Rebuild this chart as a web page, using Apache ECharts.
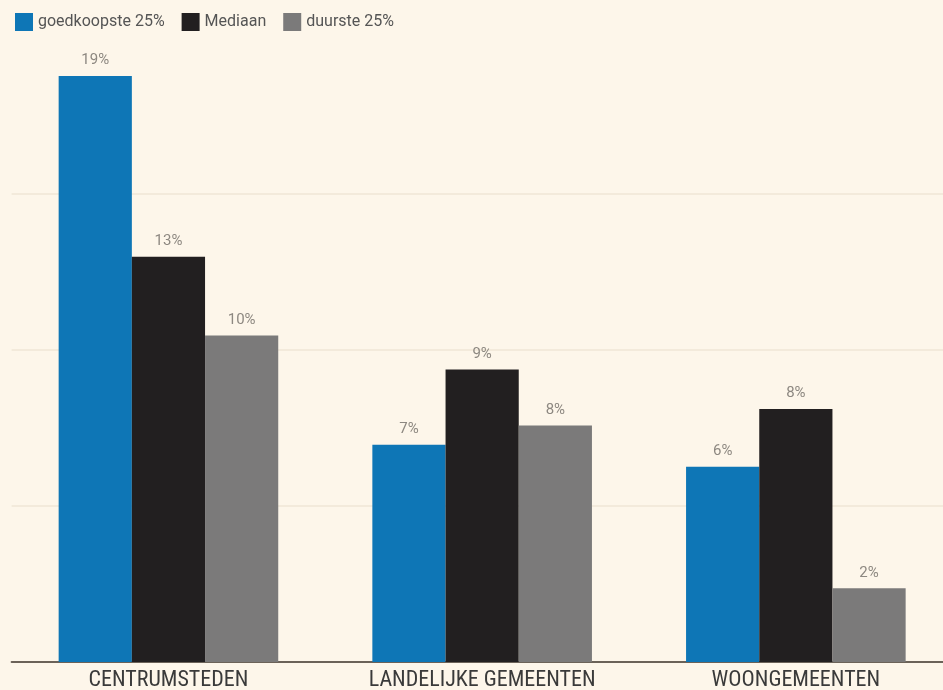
<!DOCTYPE html>
<html><head><meta charset="utf-8">
<script src="https://cdn.jsdelivr.net/npm/echarts@6/dist/echarts.min.js"></script>
<style>html,body{margin:0;padding:0;background:#fdf6ea;}#c{width:943px;height:690px;}</style>
</head><body><div id="c"></div>
<script>
const categories = ['CENTRUMSTEDEN', 'LANDELIJKE GEMEENTEN', 'WOONGEMEENTEN'];
const seriesNames = ['goedkoopste 25%', 'Mediaan', 'duurste 25%'];
const goedkoopste = [18.75, 6.95, 6.25];
const mediaan = [12.97, 9.36, 8.1];
const duurste = [10.45, 7.57, 2.36];
const colors = ['#0e76b6', '#221f20', '#7b7a7a'];

const chart = echarts.init(document.getElementById('c'));
const mk = (name, data, i) => ({
  name, type: 'bar', data, barGap: '0%', barCategoryGap: '30%',
  itemStyle: { color: colors[i] },
  label: { show: true, position: 'top', distance: 8, color: '#8d8881', fontSize: 15,
    fontFamily: 'Roboto, sans-serif', formatter: p => Math.round(p.value) + '%' }
});
chart.setOption({
  backgroundColor: '#fdf6ea',
  animation: false,
  legend: {
    left: 10, top: 8, itemWidth: 18, itemHeight: 18, itemGap: 17,
    icon: 'rect',
    textStyle: { color: '#555', fontSize: 16, fontFamily: 'Roboto, sans-serif' },
    data: seriesNames
  },
  grid: { left: 11.6, top: 37, right: -9.7, bottom: 28, containLabel: false, outerBoundsMode: 'none' },
  xAxis: {
    type: 'category', data: categories,
    axisLine: { lineStyle: { color: '#6b6258', width: 2 } },
    axisTick: { show: false },
    axisLabel: { color: '#3a3a3a', fontSize: 22, margin: 7, fontFamily: '"Liberation Sans Narrow", "Roboto Condensed", sans-serif' }
  },
  yAxis: {
    type: 'value', min: 0, max: 20, interval: 5,
    axisLabel: { show: false }, axisLine: { show: false }, axisTick: { show: false },
    splitLine: { show: true, showMinLine: false, showMaxLine: false, lineStyle: { color: '#efe6d6', width: 1.5 } }
  },
  series: [mk(seriesNames[0], goedkoopste, 0), mk(seriesNames[1], mediaan, 1), mk(seriesNames[2], duurste, 2)]
});
</script></body></html>
